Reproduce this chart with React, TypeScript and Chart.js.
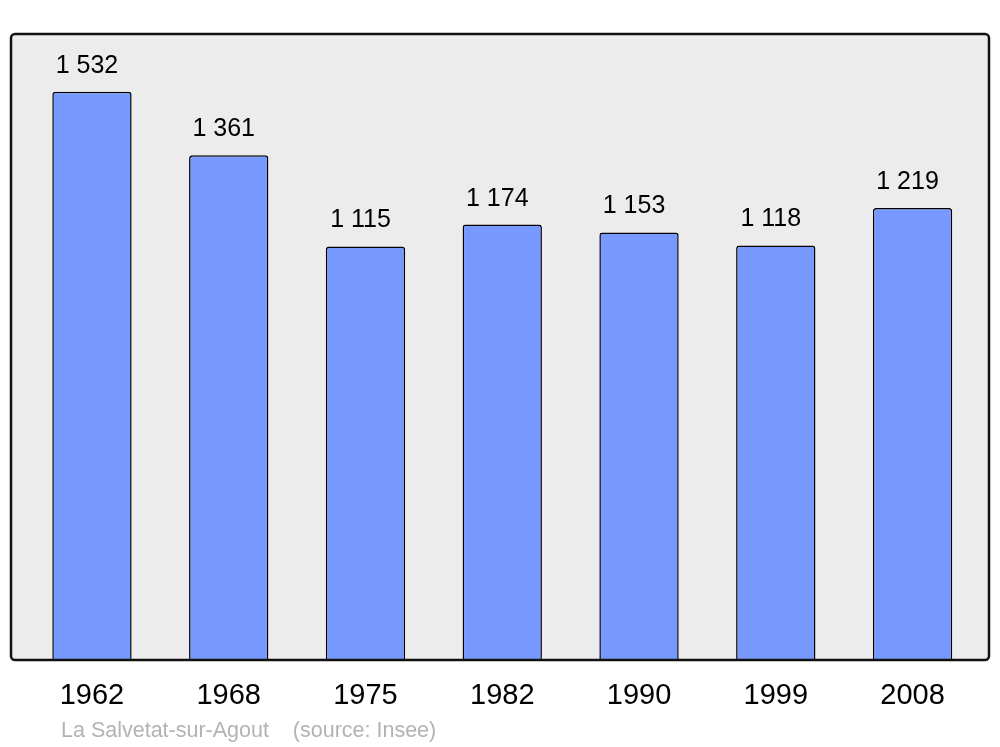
import React, { useEffect, useRef } from "react";
import { Chart, registerables } from "chart.js";

Chart.register(...registerables);

const years = ["1962", "1968", "1975", "1982", "1990", "1999", "2008"];
const population = [1532, 1361, 1115, 1174, 1153, 1118, 1219];
const footerText = "La Salvetat-sur-Agout    (source: Insee)";

const FONT = "'Liberation Sans', Arial, sans-serif";

function fmt(v: number): string {
  return String(v).replace(/\B(?=(\d{3})+(?!\d))/g, " ");
}

const boxPlugin = {
  id: "boxPlugin",
  beforeDatasetsDraw(chart: any) {
    const { ctx, chartArea: a } = chart;
    ctx.save();
    ctx.beginPath();
    ctx.roundRect(a.left, a.top, a.right - a.left, a.bottom - a.top, 4);
    ctx.fillStyle = "#ececec";
    ctx.fill();
    ctx.restore();
  },
  afterDatasetsDraw(chart: any) {
    const { ctx, chartArea: a } = chart;
    ctx.save();
    ctx.beginPath();
    ctx.roundRect(a.left, a.top, a.right - a.left, a.bottom - a.top, 4);
    ctx.lineWidth = 2.5;
    ctx.strokeStyle = "#111";
    ctx.stroke();
    // value labels
    const meta = chart.getDatasetMeta(0);
    ctx.fillStyle = "#000";
    ctx.font = `25px ${FONT}`;
    ctx.textAlign = "center";
    ctx.textBaseline = "alphabetic";
    meta.data.forEach((bar: any, i: number) => {
      ctx.fillText(fmt(population[i]), bar.x - 5, bar.y - 19);
    });
    // footer
    ctx.fillStyle = "#b3b3b3";
    ctx.font = `21.5px ${FONT}`;
    ctx.textAlign = "left";
    ctx.fillText(footerText, 61, 737);
    ctx.restore();
  },
};

export default function App() {
  const ref = useRef<HTMLCanvasElement | null>(null);
  useEffect(() => {
    if (!ref.current) return;
    const chart = new Chart(ref.current, {
      type: "bar",
      data: {
        datasets: [
          {
            data: population.map((v, i) => ({ x: i, y: v })),
            backgroundColor: "#7799ff",
            borderColor: "#000",
            borderWidth: 1.5,
            borderRadius: 3,
            barPercentage: 1,
            categoryPercentage: 0.58,
          },
        ],
      },
      options: {
        animation: false,
        responsive: false,
        maintainAspectRatio: false,
        layout: { padding: { left: 11, right: 11, top: 34, bottom: 0 } },
        plugins: { legend: { display: false }, tooltip: { enabled: false }, title: { display: false } },
        scales: {
          x: {
            type: "linear",
            offset: false,
            min: -0.592,
            max: 6.559,
            grid: { display: false, offset: false },
            border: { display: false },
            afterBuildTicks(scale: any) {
              scale.ticks = years.map((_, i) => ({ value: i }));
            },
            afterFit(scale: any) {
              scale.height = 87;
            },
            ticks: {
              autoSkip: false,
              maxRotation: 0,
              padding: 11,
              color: "#000",
              font: { size: 29, family: FONT },
              callback: (v: any) => years[v as number] ?? "",
            },
          },
          y: {
            display: false,
            min: 0,
            max: 1688,
          },
        },
      },
      plugins: [boxPlugin],
    });
    return () => chart.destroy();
  }, []);
  return (
    <div style={{ position: "fixed", left: 0, top: 0, width: 1000, height: 747, background: "#fff" }}>
      <canvas ref={ref} width={1000} height={747} style={{ width: 1000, height: 747 }} />
    </div>
  );
}
